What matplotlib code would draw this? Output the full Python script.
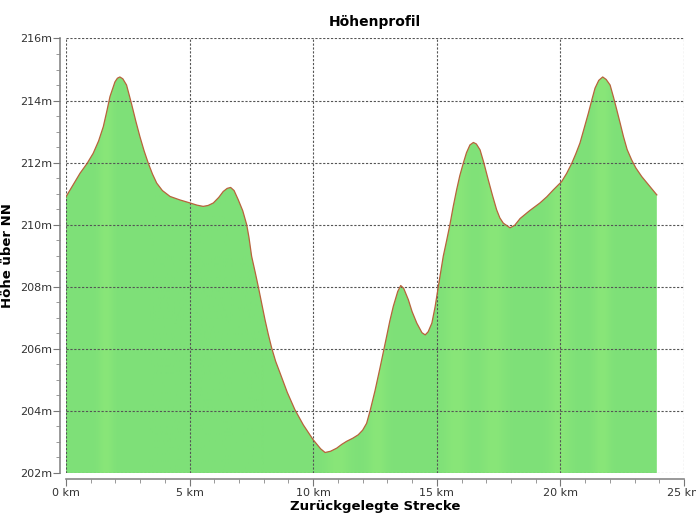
import numpy as np
from matplotlib import pyplot as plt
from matplotlib.ticker import MultipleLocator, FuncFormatter

# distance (km) and elevation (m) read from the profile
dist_km = [0.0, 0.3, 0.57, 0.85, 1.1, 1.32, 1.51, 1.65, 1.78, 1.98, 2.08, 2.18, 2.3,
           2.45, 2.65, 2.82, 2.99, 3.16, 3.33, 3.5, 3.67, 3.9, 4.21, 4.6, 5.02, 5.3,
           5.55, 5.75, 5.96, 6.18, 6.36, 6.52, 6.66, 6.8, 6.97, 7.15, 7.31, 7.4,
           7.51, 7.65, 7.78, 7.92, 8.05, 8.18, 8.32, 8.48, 8.66, 8.95, 9.26, 9.6,
           10.0, 10.3, 10.48, 10.7, 10.95, 11.15, 11.35, 11.6, 11.82, 12.0, 12.16,
           12.3, 12.5, 12.7, 12.97, 13.1, 13.24, 13.42, 13.54, 13.66, 13.85, 14.0,
           14.19, 14.4, 14.53, 14.65, 14.8, 14.93, 15.06, 15.26, 15.4, 15.53,
           15.66, 15.8, 15.93, 16.07, 16.2, 16.34, 16.48, 16.6, 16.75, 16.9,
           17.08, 17.25, 17.42, 17.55, 17.69, 17.96, 18.15, 18.37, 18.75, 19.17,
           19.45, 19.71, 20.05, 20.25, 20.46, 20.62, 20.79, 20.95, 21.13, 21.27,
           21.4, 21.55, 21.71, 21.85, 22.01, 22.15, 22.28, 22.42, 22.55, 22.7,
           22.88, 23.05, 23.29, 23.6, 23.9]
elev_m = [210.9, 211.3, 211.66, 211.97, 212.3, 212.7, 213.16, 213.65, 214.13, 214.6,
          214.72, 214.76, 214.7, 214.5, 213.9, 213.35, 212.84, 212.38, 211.98,
          211.63, 211.34, 211.1, 210.91, 210.8, 210.7, 210.63, 210.59, 210.62,
          210.7, 210.88, 211.07, 211.17, 211.2, 211.1, 210.8, 210.45, 210.0,
          209.6, 208.98, 208.48, 208.0, 207.45, 206.94, 206.48, 206.03, 205.6,
          205.22, 204.6, 204.04, 203.55, 203.07, 202.78, 202.66, 202.7, 202.8,
          202.92, 203.02, 203.12, 203.23, 203.38, 203.6, 204.0, 204.65, 205.38,
          206.4, 206.9, 207.37, 207.85, 208.04, 207.95, 207.58, 207.2, 206.83,
          206.52, 206.45, 206.55, 206.83, 207.35, 208.0, 208.98, 209.5, 210.0,
          210.57, 211.12, 211.58, 211.98, 212.32, 212.57, 212.65, 212.6, 212.41,
          212.0, 211.45, 210.95, 210.48, 210.22, 210.05, 209.9, 209.98, 210.2,
          210.45, 210.7, 210.9, 211.12, 211.39, 211.65, 211.98, 212.28, 212.63,
          213.08, 213.59, 214.02, 214.4, 214.65, 214.76, 214.68, 214.5, 214.1,
          213.7, 213.26, 212.84, 212.42, 212.09, 211.83, 211.55, 211.25, 210.96]

y_ticks = [202, 204, 206, 208, 210, 212, 214, 216]
x_ticks = [0, 5, 10, 15, 20, 25]

plt.rcParams['font.family'] = ['DejaVu Sans']

fig = plt.figure(figsize=(6.96, 5.13), dpi=100)
ax = fig.add_axes([0.0948, 0.078, 0.888, 0.847])

ax.set_xlim(0, 25)
ax.set_ylim(202, 216)

# green fill with soft lighter vertical bands
poly = ax.fill_between(dist_km, elev_m, 202, color='#7ee078', lw=0, zorder=1)
xs = np.linspace(0, dist_km[-1], 600)
shade = np.zeros_like(xs)
for c, w in [(1.6, 0.3), (11.0, 0.5), (12.6, 0.4), (15.8, 0.5), (17.3, 0.5),
             (20.0, 0.45), (21.7, 0.35)]:
    shade += np.exp(-((xs - c) / w) ** 2)
shade = np.clip(shade, 0, 1)
base = np.array([126, 224, 120]) / 255
light = np.array([137, 230, 121]) / 255
img = base[None, :] + shade[:, None] * (light - base)[None, :]
im = ax.imshow(img[None, :, :], extent=[0, dist_km[-1], 202, 216],
               aspect='auto', zorder=1, interpolation='bilinear')
path = poly.get_paths()[0]
im.set_clip_path(path, transform=ax.transData)
poly.set_visible(False)

ax.plot(dist_km, elev_m, color='#b8623c', lw=0.9, zorder=3)

ax.set_xticks(x_ticks)
ax.set_yticks(y_ticks)
ax.xaxis.set_minor_locator(MultipleLocator(1))
ax.yaxis.set_minor_locator(MultipleLocator(0.5))
ax.xaxis.set_major_formatter(FuncFormatter(lambda v, p: '%d km' % v))
ax.yaxis.set_major_formatter(FuncFormatter(lambda v, p: '%dm' % v))

ax.grid(True, which='major', color='#555555', linestyle=(0, (2, 1.5)), lw=0.8, zorder=2)
ax.set_axisbelow(False)

ax.spines['right'].set_color('none')
ax.spines['top'].set_color('none')
ax.spines['left'].set_position(('outward', 4))
ax.spines['bottom'].set_position(('outward', 4))
for s in ['left', 'bottom']:
    ax.spines[s].set_color('#888888')
    ax.spines[s].set_linewidth(1.2)
ax.tick_params(which='major', length=5, color='#777777', labelsize=8, labelcolor='#333333')
ax.tick_params(which='minor', length=3, color='#888888')
ax.tick_params(axis='x', pad=2)
ax.tick_params(axis='y', pad=1)

ax.set_title('Höhenprofil', fontsize=10, fontweight='bold', pad=9)
ax.set_xlabel('Zurückgelegte Strecke', fontsize=9.5, fontweight='bold', labelpad=1)
ax.set_ylabel('Höhe über NN', fontsize=9.5, fontweight='bold', labelpad=4)

fig.savefig('out.png', dpi=100)
